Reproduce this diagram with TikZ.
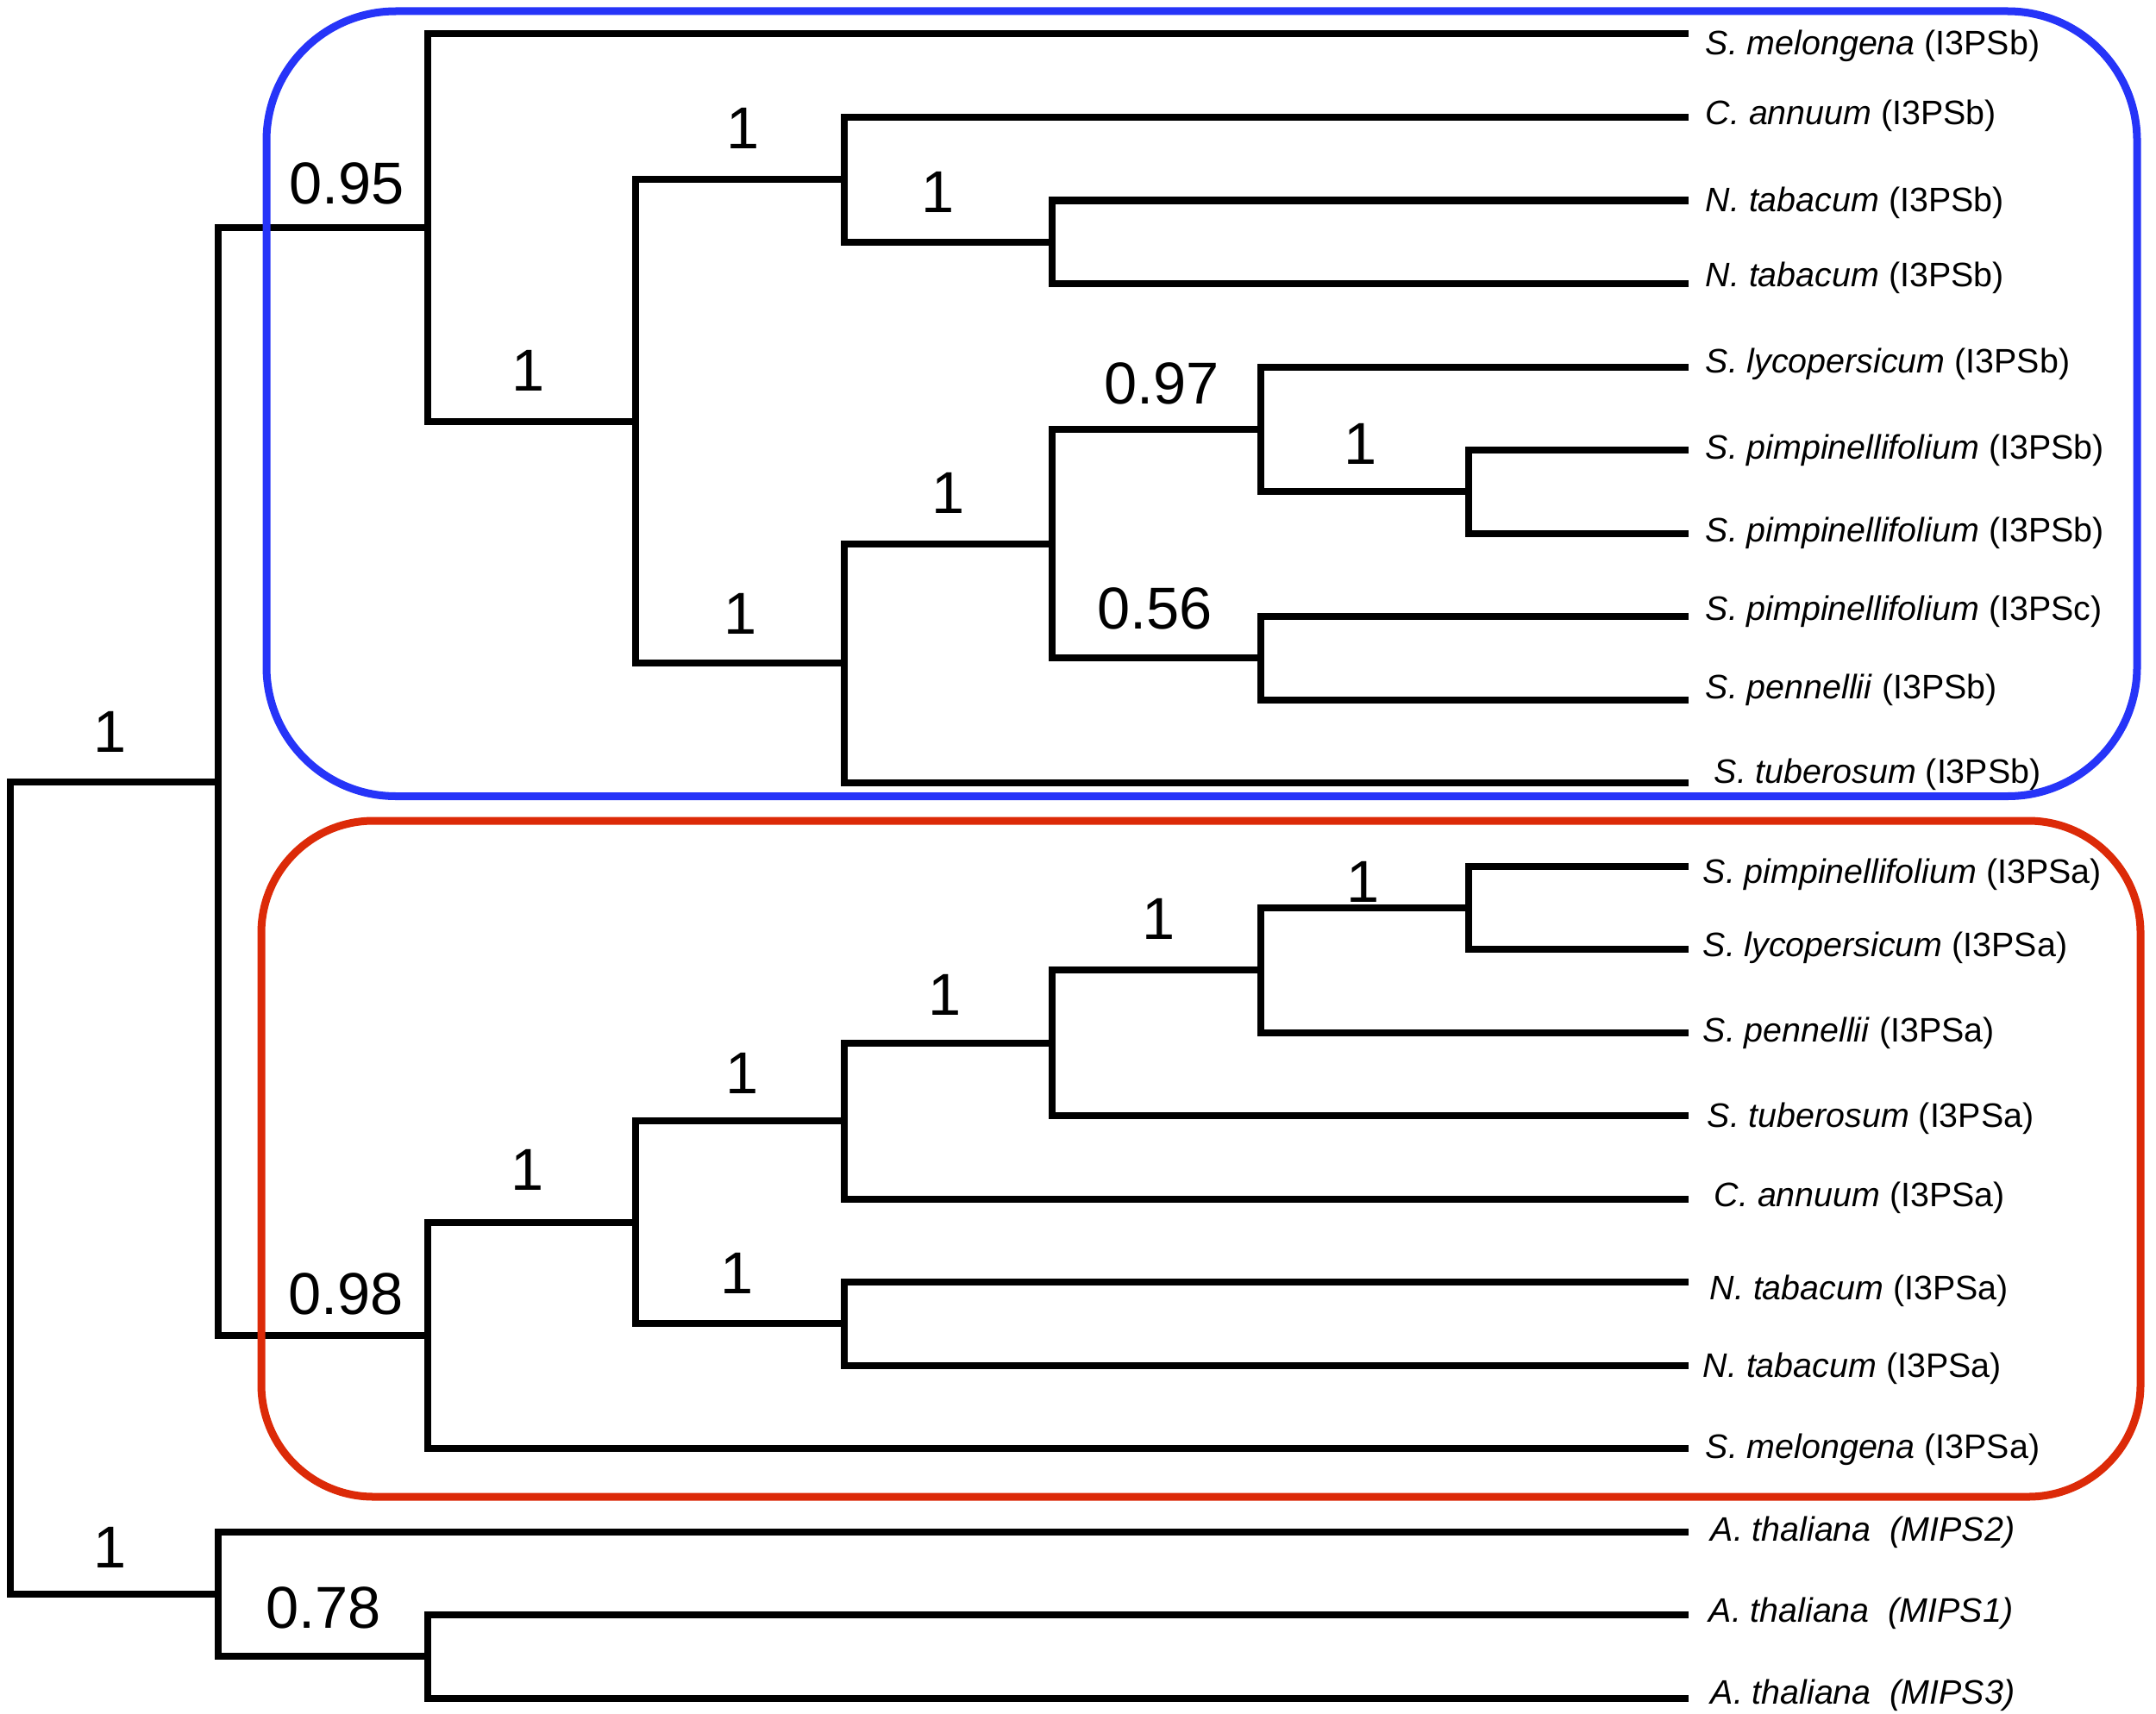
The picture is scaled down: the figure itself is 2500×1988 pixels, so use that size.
\documentclass[tikz,border=0pt]{standalone}
\usepackage{fontspec}
\setmainfont{Liberation Sans}
\definecolor{boxblue}{RGB}{38,52,248}
\definecolor{boxred}{RGB}{220,42,8}
\begin{document}
\begin{tikzpicture}[x=0.01cm,y=-0.01cm,
  tree/.style={line width=0.08cm, line join=miter},
  boot/.style={font=\fontsize{19.5}{20}\selectfont, inner sep=0pt},
  tiplab/.style={font=\fontsize{11.2}{12}\selectfont, inner sep=0pt, anchor=base west},
  clade/.style={line width=0.09cm, rounded corners=#1}]
\useasboundingbox (0,0) rectangle (2500,1988);
% tips
\foreach \i in {0,...,20} \coordinate (t\i) at (1958,{39.5+96.5*\i});
% internal nodes
\coordinate (root) at (12,1377.7);
\coordinate (A) at (253,906.5);
\coordinate (O) at (253,1848.9);
\coordinate (O2) at (496,1921.25);
\coordinate (B) at (496,264.2);
\coordinate (B1) at (737,488.9);
\coordinate (B2) at (979,208.4);
\coordinate (B4) at (1220,280.75);
\coordinate (B3) at (979,769.3);
\coordinate (B5) at (1220,630.6);
\coordinate (B6) at (1462,497.9);
\coordinate (B8) at (1703,570.25);
\coordinate (B7) at (1462,763.25);
\coordinate (R2) at (496,1548.8);
\coordinate (R3) at (737,1417.6);
\coordinate (R4) at (979,1300);
\coordinate (R4b) at (979,1535.25);
\coordinate (R5) at (1220,1209.6);
\coordinate (R6) at (1462,1125.1);
\coordinate (R7) at (1703,1052.75);
% branches
\draw[tree] (root) |- (A); \draw[tree] (root) |- (O);
\draw[tree] (A) |- (B); \draw[tree] (A) |- (R2);
\draw[tree] (B) |- (t0); \draw[tree] (B) |- (B1);
\draw[tree] (B1) |- (B2); \draw[tree] (B1) |- (B3);
\draw[tree] (B2) |- (t1); \draw[tree] (B2) |- (B4);
\draw[tree] (B4) |- (t2); \draw[tree] (B4) |- (t3);
\draw[tree] (B3) |- (B5); \draw[tree] (B3) |- (t9);
\draw[tree] (B5) |- (B6); \draw[tree] (B5) |- (B7);
\draw[tree] (B6) |- (t4); \draw[tree] (B6) |- (B8);
\draw[tree] (B8) |- (t5); \draw[tree] (B8) |- (t6);
\draw[tree] (B7) |- (t7); \draw[tree] (B7) |- (t8);
\draw[tree] (R2) |- (R3); \draw[tree] (R2) |- (t17);
\draw[tree] (R3) |- (R4); \draw[tree] (R3) |- (R4b);
\draw[tree] (R4) |- (R5); \draw[tree] (R4) |- (t14);
\draw[tree] (R5) |- (R6); \draw[tree] (R5) |- (t13);
\draw[tree] (R6) |- (R7); \draw[tree] (R6) |- (t12);
\draw[tree] (R7) |- (t10); \draw[tree] (R7) |- (t11);
\draw[tree] (R4b) |- (t15); \draw[tree] (R4b) |- (t16);
\draw[tree] (O) |- (t18); \draw[tree] (O) |- (O2);
\draw[tree] (O2) |- (t19); \draw[tree] (O2) |- (t20);
% clade boxes
\draw[clade=1.5cm, boxblue] (309,13) rectangle (2478,923.5);
\draw[clade=1.3cm, boxred] (303,952) rectangle (2482,1736);
% support values
\node[boot] (s1) at (128,849) {1};
\node[boot] (s2) at (402,213) {0.95};
\node[boot] (s3) at (862,149) {1};
\node[boot] (s4) at (1088,223) {1};
\node[boot] (s5) at (613,430) {1};
\node[boot] (s6) at (1100,572) {1};
\node[boot] (s7) at (859,712) {1};
\node[boot] (s8) at (1347,445) {0.97};
\node[boot] (s9) at (1578,515) {1};
\node[boot] (s10) at (1339,706) {0.56};
\node[boot] (s11) at (1581,1023) {1};
\node[boot] (s12) at (1344,1066) {1};
\node[boot] (s13) at (1096,1154) {1};
\node[boot] (s14) at (861,1245) {1};
\node[boot] (s15) at (612,1357) {1};
\node[boot] (s16) at (855,1477) {1};
\node[boot] (s17) at (401,1501) {0.98};
\node[boot] (s18) at (128,1795) {1};
\node[boot] (s19) at (375,1865) {0.78};
% tip labels
\node[tiplab] (l0) at (1977,64) {\textit{S. melongena} (I3PSb)};
\node[tiplab] (l1) at (1977,144.5) {\textit{C. annuum} (I3PSb)};
\node[tiplab] (l2) at (1977,245.5) {\textit{N. tabacum} (I3PSb)};
\node[tiplab] (l3) at (1977,332) {\textit{N. tabacum} (I3PSb)};
\node[tiplab] (l4) at (1977,432) {\textit{S. lycopersicum} (I3PSb)};
\node[tiplab] (l5) at (1977,532) {\textit{S. pimpinellifolium} (I3PSb)};
\node[tiplab] (l6) at (1977,628) {\textit{S. pimpinellifolium} (I3PSb)};
\node[tiplab] (l7) at (1977,719) {\textit{S. pimpinellifolium} (I3PSc)};
\node[tiplab] (l8) at (1977,810.5) {\textit{S. pennellii} (I3PSb)};
\node[tiplab] (l9) at (1987,908.5) {\textit{S. tuberosum} (I3PSb)};
\node[tiplab] (l10) at (1974,1024.5) {\textit{S. pimpinellifolium} (I3PSa)};
\node[tiplab] (l11) at (1974,1109) {\textit{S. lycopersicum} (I3PSa)};
\node[tiplab] (l12) at (1974,1208.5) {\textit{S. pennellii} (I3PSa)};
\node[tiplab] (l13) at (1979,1307.5) {\textit{S. tuberosum} (I3PSa)};
\node[tiplab] (l14) at (1987,1399.5) {\textit{C. annuum} (I3PSa)};
\node[tiplab] (l15) at (1982,1507) {\textit{N. tabacum} (I3PSa)};
\node[tiplab] (l16) at (1974,1597) {\textit{N. tabacum} (I3PSa)};
\node[tiplab] (l17) at (1977,1691) {\textit{S. melongena} (I3PSa)};
\node[tiplab] (l18) at (1983,1787) {\textit{A. thaliana\ \ (MIPS2)}};
\node[tiplab] (l19) at (1981,1881.5) {\textit{A. thaliana\ \ (MIPS1)}};
\node[tiplab] (l20) at (1983,1976.5) {\textit{A. thaliana\ \ (MIPS3)}};
\end{tikzpicture}
\end{document}
